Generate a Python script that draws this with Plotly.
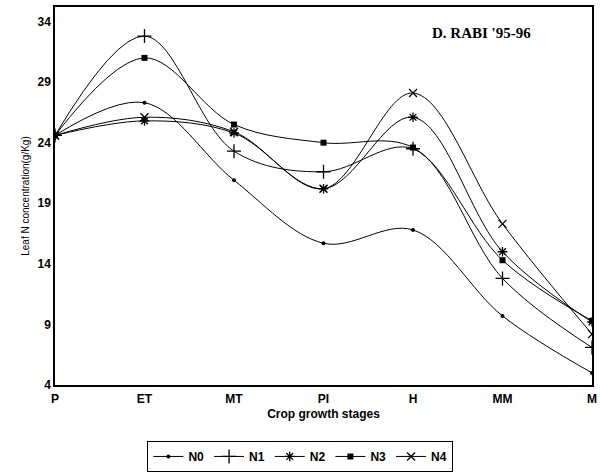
import plotly.graph_objects as go

# Growth stages along the x axis
stages = ["P", "ET", "MT", "PI", "H", "MM", "M"]
y_ticks = [4, 9, 14, 19, 24, 29, 34]

# Leaf N concentration (g/Kg) for each nitrogen level
n0 = [24.6, 27.3, 20.9, 15.7, 16.8, 9.7, 5.0]
n1 = [24.6, 32.8, 23.3, 21.6, 23.5, 12.8, 7.1]
n2 = [24.6, 25.8, 24.8, 20.2, 26.1, 15.0, 9.2]
n3 = [24.6, 31.0, 25.5, 24.0, 23.6, 14.3, 9.3]
n4 = [24.6, 26.1, 24.9, 20.2, 28.1, 17.3, 8.2]

series = [
    ("N0", n0, dict(symbol="circle", size=4)),
    ("N1", n1, dict(symbol="cross-thin-open", size=10, line=dict(width=1.3, color="black"))),
    ("N2", n2, dict(symbol="asterisk-open", size=8, line=dict(width=1.3, color="black"))),
    ("N3", n3, dict(symbol="square", size=6)),
    ("N4", n4, dict(symbol="x-thin-open", size=8, line=dict(width=1.3, color="black"))),
]

fig = go.Figure()
for name, vals, mk in series:
    fig.add_trace(go.Scatter(
        x=list(range(len(stages))), y=vals, name=name,
        mode="lines+markers",
        line=dict(color="black", width=1, shape="spline", smoothing=1.0),
        marker=dict(color="black", **mk),
    ))

fig.add_annotation(
    x=0.795, y=0.93, xref="paper", yref="paper", showarrow=False,
    xanchor="center", yanchor="middle",
    text="<b>D. RABI '95-96</b>",
    font=dict(family="Liberation Serif", size=15, color="black"),
)

axis_font = dict(family="Liberation Sans", size=12, color="black")

fig.update_layout(
    width=600, height=475,
    margin=dict(l=55, r=8, t=7, b=90, autoexpand=False),
    paper_bgcolor="white", plot_bgcolor="white",
    font=dict(family="Liberation Sans", color="black"),
    showlegend=True,
    legend=dict(
        orientation="h", x=0.457, xanchor="center", y=-0.148, yanchor="top",
        bordercolor="black", borderwidth=1,
        font=dict(family="Liberation Sans", size=12, color="black", weight="bold"),
        itemwidth=30, tracegroupgap=0,
    ),
    xaxis=dict(
        range=[0, 6], tickmode="array",
        tickvals=list(range(len(stages))), ticktext=stages,
        showgrid=False, zeroline=False,
        showline=True, linecolor="black", linewidth=1.5, mirror=True,
        ticks="", ticklabelstandoff=2, tickfont=dict(axis_font, weight="bold"),
        title=dict(text="<b>Crop growth stages</b>",
                   font=dict(family="Liberation Sans", size=12, color="black"), standoff=4),
    ),
    yaxis=dict(
        range=[4, 35.2], tickmode="array", tickvals=y_ticks,
        showgrid=False, zeroline=False,
        showline=True, linecolor="black", linewidth=1.5, mirror=True,
        ticks="", tickfont=dict(axis_font, weight="bold"),
        title=dict(text="Leaf N concentration(g/Kg)",
                   font=dict(family="Liberation Sans Narrow, Liberation Sans", size=10, color="black"),
                   standoff=6),
    ),
)

fig.write_html("out.html")
